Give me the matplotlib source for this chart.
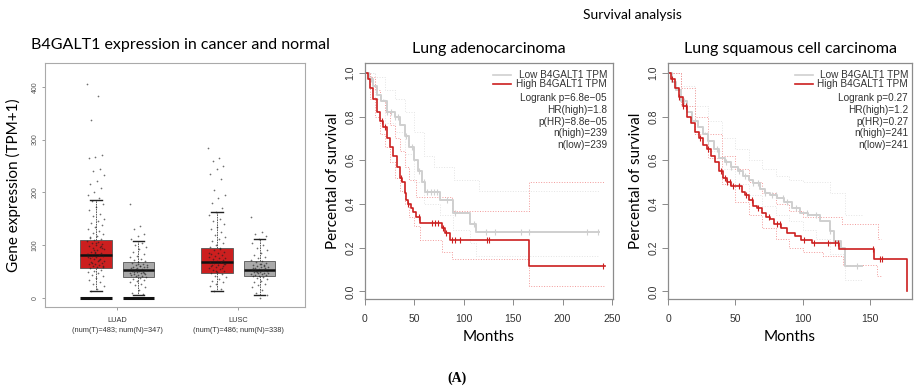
import numpy as np
import matplotlib
matplotlib.use("Agg")
import matplotlib.pyplot as plt

# ---- box plot data (TPM+1) ----
box_groups = ["LUAD", "LUSC"]
box_sub = ["(num(T)=483; num(N)=347)", "(num(T)=486; num(N)=338)"]
# q1, median, q3, whisker low, whisker high
luad_t_stats = [57, 82, 110, 13, 186]
luad_n_stats = [40, 53, 68, 6, 108]
lusc_t_stats = [47, 68, 95, 13, 163]
lusc_n_stats = [42, 53, 70, 6, 112]
zero_bar = [0, 0]  # thick bar at 0 under LUAD boxes

luad_t_pts = [405, 383, 337, 270, 267, 265, 245, 240, 232, 222, 215, 208, 200, 196, 190,
              183, 178, 172, 166, 160, 155, 150, 146, 142, 138, 134, 130, 127, 124, 121,
              118, 115, 112, 110, 108, 106, 104, 102, 100, 98, 96, 94, 92, 90, 88, 86,
              85, 83, 82, 80, 79, 77, 76, 74, 73, 71, 70, 68, 67, 65, 64, 62, 61, 59, 58,
              56, 54, 52, 50, 47, 44, 41, 38, 35, 31, 27, 23, 18, 14, 95, 87, 78, 72, 66,
              60, 105, 113, 99, 91, 84]
luad_n_pts = [178, 137, 130, 122, 117, 112, 105, 100, 96, 92, 88, 84, 80, 77, 74, 72,
              70, 68, 66, 65, 63, 62, 60, 59, 58, 57, 56, 55, 54, 53, 52, 51, 50, 49, 48,
              47, 46, 45, 44, 43, 42, 41, 40, 38, 36, 34, 32, 30, 27, 24, 20, 15, 10, 7,
              55, 58, 61, 50, 47, 64]
lusc_t_pts = [285, 265, 260, 250, 245, 235, 225, 205, 195, 190, 180, 170, 163, 158,
              150, 145, 140, 135, 130, 125, 120, 116, 112, 108, 104, 100, 97, 94, 91, 88,
              86, 84, 82, 80, 78, 76, 74, 72, 70, 69, 68, 66, 65, 63, 62, 60, 58, 57, 55,
              53, 51, 49, 47, 45, 42, 39, 36, 33, 30, 26, 22, 18, 14, 75, 67, 61, 56, 52,
              85, 92, 71, 64]
lusc_n_pts = [153, 125, 122, 118, 112, 105, 100, 95, 90, 86, 82, 78, 75, 72, 70, 68,
              66, 65, 63, 62, 60, 59, 58, 57, 56, 55, 54, 53, 52, 51, 50, 49, 48, 47, 46,
              45, 44, 43, 42, 41, 40, 38, 36, 33, 30, 27, 24, 20, 15, 10, 6, 0, 56, 60, 50,
              48, 64, 53]

# ---- survival data ----
# LUAD
luad_high_t = [0, 3, 5, 8, 12, 15, 18, 22, 25, 28, 32, 35, 37, 40, 42, 44, 47, 49, 52, 56, 78, 81, 86, 166]
luad_high_s = [1.0, 0.97, 0.93, 0.88, 0.82, 0.78, 0.75, 0.70, 0.66, 0.62, 0.57, 0.52, 0.50, 0.45, 0.42, 0.40, 0.38, 0.365, 0.34, 0.315, 0.29, 0.265, 0.233, 0.117]
luad_high_end = 243
luad_high_cens = [17, 20, 36, 44, 55, 68, 71, 74, 79, 82, 88, 91, 96, 123, 126, 241]
luad_low_t = [0, 4, 8, 12, 16, 22, 30, 35, 40, 45, 50, 54, 58, 61, 76, 89, 106, 112]
luad_low_s = [1.0, 0.97, 0.94, 0.90, 0.87, 0.82, 0.80, 0.76, 0.71, 0.66, 0.60, 0.55, 0.50, 0.455, 0.42, 0.36, 0.31, 0.27]
luad_low_end = 237
luad_low_cens = [6, 22, 26, 30, 33, 42, 48, 55, 60, 63, 67, 70, 73, 83, 91, 110, 122, 132, 158, 166, 225, 236]
luad_high_ci_t = [0, 5, 10, 15, 20, 25, 30, 35, 40, 45, 52, 88, 166]
luad_high_up = [1.0, 0.98, 0.92, 0.87, 0.82, 0.76, 0.70, 0.64, 0.57, 0.51, 0.43, 0.37, 0.50]
luad_high_lo_t = [0, 5, 10, 15, 20, 25, 30, 35, 40, 45, 50, 56, 78, 88, 166]
luad_high_lo = [1.0, 0.88, 0.80, 0.72, 0.66, 0.59, 0.52, 0.46, 0.40, 0.34, 0.30, 0.236, 0.18, 0.148, 0.026]
luad_low_ci_t = [0, 10, 20, 30, 40, 50, 60, 70, 90, 115]
luad_low_up = [1.0, 0.98, 0.92, 0.88, 0.82, 0.73, 0.62, 0.57, 0.51, 0.46]
luad_low_lo_t = [0, 10, 20, 30, 40, 50, 60, 76, 89, 106, 112]
luad_low_lo = [1.0, 0.88, 0.77, 0.73, 0.63, 0.50, 0.40, 0.35, 0.28, 0.22, 0.16]

# LUSC
lusc_high_t = [0, 2, 5, 8, 11, 14, 17, 20, 23, 26, 29, 32, 35, 38, 41, 44, 47, 55, 57, 60, 63, 66, 70,
               73, 76, 79, 84, 88, 94, 99, 107, 127, 153, 177]
lusc_high_s = [1.0, 0.97, 0.93, 0.89, 0.85, 0.80, 0.77, 0.73, 0.70, 0.67, 0.65, 0.62, 0.59, 0.55, 0.52,
               0.50, 0.48, 0.455, 0.44, 0.42, 0.39, 0.38, 0.36, 0.34, 0.33, 0.31, 0.29, 0.267, 0.255,
               0.237, 0.222, 0.196, 0.148, 0.0]
lusc_high_end = 177
lusc_high_cens = [3, 8, 11, 13, 24, 30, 39, 42, 44, 46, 48, 53, 58, 62, 67, 75, 81, 83, 101, 108, 119, 124, 126, 152, 157, 159]
lusc_low_t = [0, 3, 6, 10, 14, 18, 22, 26, 30, 34, 38, 42, 47, 52, 56, 60, 63, 68, 72, 76, 81, 86, 92,
              98, 104, 113, 120, 123, 128, 131]
lusc_low_s = [1.0, 0.96, 0.92, 0.87, 0.82, 0.78, 0.75, 0.72, 0.69, 0.65, 0.61, 0.59, 0.57, 0.55, 0.53,
              0.51, 0.495, 0.47, 0.45, 0.44, 0.425, 0.41, 0.38, 0.36, 0.35, 0.32, 0.275, 0.23, 0.20, 0.115]
lusc_low_end = 144
lusc_low_cens = [12, 30, 36, 43, 47, 53, 57, 63, 67, 72, 77, 80, 85, 88, 95, 103, 110, 120, 140]
lusc_high_ci_t = [0, 10, 20, 30, 40, 50, 60, 70, 80, 90, 100, 129, 156]
lusc_high_up = [1.0, 0.93, 0.80, 0.72, 0.62, 0.56, 0.50, 0.45, 0.40, 0.37, 0.34, 0.31, 0.24]
lusc_high_lo_t = [0, 10, 20, 30, 40, 50, 60, 70, 80, 90, 100, 115, 130, 155]
lusc_high_lo = [1.0, 0.85, 0.72, 0.61, 0.49, 0.41, 0.35, 0.29, 0.24, 0.20, 0.18, 0.16, 0.12, 0.07]
lusc_ci_end = 158
lusc_low_ci_t = [0, 10, 20, 30, 40, 50, 60, 70, 80, 90, 100, 110, 120, 131]
lusc_low_up = [1.0, 0.94, 0.85, 0.78, 0.70, 0.65, 0.60, 0.56, 0.53, 0.51, 0.50, 0.50, 0.45, 0.35]
lusc_low_lo = [1.0, 0.85, 0.73, 0.64, 0.56, 0.49, 0.44, 0.39, 0.35, 0.32, 0.28, 0.24, 0.17, 0.05]

luad_stats_txt = ["Logrank p=6.8e\u221205", "HR(high)=1.8", "p(HR)=8.8e\u221205", "n(high)=239", "n(low)=239"]
lusc_stats_txt = ["Logrank p=0.27", "HR(high)=1.2", "p(HR)=0.27", "n(high)=241", "n(low)=241"]

RED = "#CC1F1F"
GREY_BOX = "#A9A9A9"
LOW = "#CFCFCF"
RED_CI = "#F29A9A"
LOW_CI = "#E4E4E4"
SPINE = "#8C8C8C"
TITLE_FONT = "Lato"
TICK_FONT = "Liberation Sans"

fig = plt.figure(figsize=(9.14, 3.91), dpi=100)
W, H = 914, 391


def px_axes(l, t, r, b):
    return fig.add_axes([l / W, 1 - b / H, (r - l) / W, (b - t) / H])


# ---------------- box plot ----------------
ax1 = px_axes(45, 63, 305, 307)
off, bw = 0.175, 0.26
groups = [(1 - off, luad_t_stats, luad_t_pts, RED), (1 + off, luad_n_stats, luad_n_pts, GREY_BOX),
          (2 - off, lusc_t_stats, lusc_t_pts, RED), (2 + off, lusc_n_stats, lusc_n_pts, GREY_BOX)]
stats = []
for pos, st, pts, col in groups:
    stats.append(dict(q1=st[0], med=st[1], q3=st[2], whislo=st[3], whishi=st[4], fliers=[]))
bp = ax1.bxp(stats, positions=[g[0] for g in groups], widths=bw, patch_artist=True,
             showfliers=False, whiskerprops=dict(color="#444444", lw=0.6, ls=(0, (2, 1))),
             capprops=dict(color="#222222", lw=1.0), medianprops=dict(color="#111111", lw=1.8),
             boxprops=dict(lw=0.6, edgecolor="#555555"), zorder=2)
for patch, g in zip(bp["boxes"], groups):
    patch.set_facecolor(g[3])
for cap in bp["caps"]:
    x = cap.get_xdata()
    c = np.mean(x)
    cap.set_xdata([c - bw * 0.18, c + bw * 0.18])
for pos, st, pts, col in groups:
    n = len(pts)
    jit = ((np.arange(n) * 0.6180339) % 1.0 - 0.5) * bw * 0.55
    ax1.scatter(pos + jit, pts, s=1.5, color="#222222", alpha=0.65, lw=0, zorder=3)
ax1.hlines(zero_bar, [1 - off - bw / 2, 1 + off - bw / 2], [1 - off + bw / 2, 1 + off + bw / 2],
           color="#111111", lw=2.2, zorder=4)
ax1.set_xlim(0.405, 2.55)
ax1.set_ylim(-17, 445)
ax1.set_yticks([0, 100, 200, 300, 400])
ax1.set_yticklabels(["0", "100", "200", "300", "400"], rotation=90, va="center",
                    fontsize=5, color="#555555", family=TICK_FONT)
ax1.set_xticks([1, 2])
ax1.set_xticklabels([f"{a}\n{b}" for a, b in zip(box_groups, box_sub)], fontsize=5.3,
                    color="#333333", family=TICK_FONT, linespacing=1.5)
ax1.tick_params(axis="both", length=2.5, width=0.5, color="#777777", pad=2)
ax1.tick_params(axis="x", pad=5)
for sp in ax1.spines.values():
    sp.set_color("#AAAAAA")
    sp.set_linewidth(0.8)
ax1.set_ylabel("Gene expression (TPM+1)", fontsize=11, family=TITLE_FONT, labelpad=8)
fig.text(180 / W, 1 - 45 / H, "B4GALT1 expression in cancer and normal", fontsize=11.5,
         family=TITLE_FONT, ha="center", va="center")


# ---------------- survival plots ----------------
def step(ax, t, s, end, **kw):
    t = list(t)
    s = list(s)
    if end > t[-1]:
        t = t + [end]
        s = s + [s[-1]]
    ax.step(t, s, where="post", **kw)


def cens(ax, t, s, times, color):
    t = np.asarray(t)
    s = np.asarray(s)
    y = s[np.searchsorted(t, times, side="right") - 1]
    ax.plot(times, y, ls="none", marker="|", ms=5, mew=0.8, color=color, zorder=5)


def km_axes(ax, title, xmax, xticks, txt, lx0, lx1, tx):
    ax.set_xlim(0, xmax)
    ax.set_ylim(-0.035, 1.045)
    ax.set_xticks(xticks)
    ax.set_xticklabels([str(v) for v in xticks], fontsize=7.5, family=TICK_FONT, color="#333333")
    ax.set_yticks([0, 0.2, 0.4, 0.6, 0.8, 1.0])
    ax.set_yticklabels(["0.0", "0.2", "0.4", "0.6", "0.8", "1.0"], rotation=90, va="center",
                       fontsize=7.5, family=TICK_FONT, color="#333333")
    ax.tick_params(axis="both", length=4, width=0.6, color="#777777", pad=3)
    ax.tick_params(axis="x", pad=7)
    for sp in ax.spines.values():
        sp.set_color(SPINE)
        sp.set_linewidth(0.9)
    ax.set_xlabel("Months", fontsize=11, family=TITLE_FONT, labelpad=4)
    ax.set_ylabel("Percental of survival", fontsize=11, family=TITLE_FONT, labelpad=4)
    ax.set_title(title, fontsize=11.5, family=TITLE_FONT, pad=7)
    ys = [0.949, 0.91]
    ax.plot([lx0, lx1], [ys[0]] * 2, color=LOW, lw=1.2, transform=ax.transAxes)
    ax.plot([lx0, lx1], [ys[1]] * 2, color=RED, lw=1.2, transform=ax.transAxes)
    ax.text(tx, ys[0], "Low B4GALT1 TPM", transform=ax.transAxes, ha="right", va="center",
            fontsize=7.2, family=TICK_FONT, color="#333333")
    ax.text(tx, ys[1], "High B4GALT1 TPM", transform=ax.transAxes, ha="right", va="center",
            fontsize=7.2, family=TICK_FONT, color="#333333")
    for i, line in enumerate(txt):
        ax.text(tx, 0.85 - i * 0.0495, line, transform=ax.transAxes, ha="right", va="center",
                fontsize=7.2, family=TICK_FONT, color="#333333")


ax2 = px_axes(365, 63, 613, 299)
step(ax2, luad_low_ci_t, luad_low_up, luad_low_end, color=LOW_CI, lw=0.7, ls=":")
step(ax2, luad_low_lo_t, luad_low_lo, luad_low_end, color=LOW_CI, lw=0.7, ls=":")
step(ax2, luad_high_ci_t, luad_high_up, luad_high_end, color=RED_CI, lw=0.7, ls=":")
step(ax2, luad_high_lo_t, luad_high_lo, luad_high_end, color=RED_CI, lw=0.7, ls=":")
step(ax2, luad_low_t, luad_low_s, luad_low_end, color=LOW, lw=1.4)
cens(ax2, luad_low_t, luad_low_s, luad_low_cens, LOW)
step(ax2, luad_high_t, luad_high_s, luad_high_end, color=RED, lw=1.2)
cens(ax2, luad_high_t, luad_high_s, luad_high_cens, RED)
km_axes(ax2, "Lung adenocarcinoma", 251, [0, 50, 100, 150, 200, 250], luad_stats_txt,
        0.515, 0.59, 0.976)

ax3 = px_axes(668, 63, 912, 299)
step(ax3, lusc_low_ci_t, lusc_low_up, lusc_low_end, color=LOW_CI, lw=0.7, ls=":")
step(ax3, lusc_low_ci_t, lusc_low_lo, lusc_low_end, color=LOW_CI, lw=0.7, ls=":")
step(ax3, lusc_high_ci_t, lusc_high_up, lusc_ci_end, color=RED_CI, lw=0.7, ls=":")
step(ax3, lusc_high_lo_t, lusc_high_lo, lusc_ci_end, color=RED_CI, lw=0.7, ls=":")
step(ax3, lusc_low_t, lusc_low_s, lusc_low_end, color=LOW, lw=1.4)
cens(ax3, lusc_low_t, lusc_low_s, lusc_low_cens, LOW)
step(ax3, lusc_high_t, lusc_high_s, lusc_high_end, color=RED, lw=1.2)
cens(ax3, lusc_high_t, lusc_high_s, lusc_high_cens, RED)
km_axes(ax3, "Lung squamous cell carcinoma", 181, [0, 50, 100, 150], lusc_stats_txt,
        0.52, 0.595, 0.984)

fig.text(632 / W, 1 - 15 / H, "Survival analysis", fontsize=10, family=TITLE_FONT,
         ha="center", va="center")
fig.text(457 / W, 1 - 378 / H, "(A)", fontsize=10, family="Liberation Serif",
         fontweight="bold", ha="center", va="center")

fig.savefig("out.png", dpi=100)
